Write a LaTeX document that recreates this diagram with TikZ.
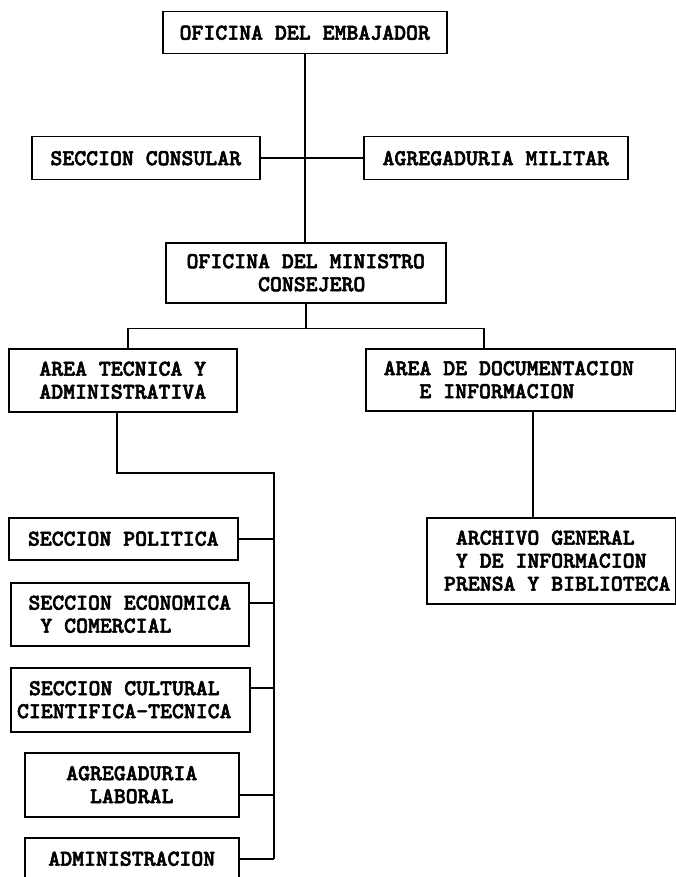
\documentclass[tikz,border=0pt]{standalone}
\usepackage{fontspec}
\newfontfamily\unitfont[FakeBold=2.5]{lmmonolt10-bold.otf}

\begin{document}
\begin{tikzpicture}[
	x=1pt, y=-1pt,
	unit/.style={draw, line width=1.5pt, anchor=north west, align=left, inner xsep=2pt, inner ysep=0pt, font={\unitfont\fontsize{22.7}{23}\selectfont}},
	link/.style={line width=1.5pt}
	]
	
	\clip (0, 0) rectangle (676, 877);
	
	\node (embajador) at (162, 11) [unit, minimum width=284, minimum height=42] {OFICINA DEL EMBAJADOR};
	\node (consular) at (31, 136) [unit, minimum width=228, minimum height=43] {SECCION CONSULAR};
	\node (militar) at (363, 136) [unit, minimum width=264, minimum height=43] {AGREGADURIA MILITAR};
	\node (ministro) at (165, 242) [unit, minimum width=280, minimum height=60] {OFICINA DEL MINISTRO\\\phantom{XXXXXX}CONSEJERO};
	
	\node (tecnica) at (8, 348) [unit, minimum width=228, minimum height=63] {AREA TECNICA Y\\ADMINISTRATIVA};
	\node (documentacion) at (365, 348) [unit, minimum width=310, minimum height=62] {AREA DE DOCUMENTACION\phantom{XX}\\\phantom{XXX}E INFORMACION};
	
	\node (politica) at (8, 517) [unit, minimum width=229, minimum height=42] {SECCION POLITICA};
	\node (economica) at (10, 582) [unit, minimum width=238, minimum height=63] {SECCION ECONOMICA\\\phantom{X}Y COMERCIAL};
	\node (cultural) at (10, 667) [unit, minimum width=239, minimum height=64] {\phantom{X}SECCION CULTURAL\\CIENTIFICA-TECNICA\phantom{X}};
	\node (laboral) at (24, 752) [unit, minimum width=214, minimum height=64] {AGREGADURIA\\\phantom{XX}LABORAL};
	\node (admin) at (24, 837) [unit, minimum width=214, minimum height=42] {ADMINISTRACION};
	
	\node (archivo) at (426, 517) [unit, minimum width=249, minimum height=86] {\phantom{XX}ARCHIVO GENERAL\\\phantom{XX}Y DE INFORMACION\\\phantom{X}PRENSA Y BIBLIOTECA};
	
	% upper part
	\draw [link] (embajador.south) -- (embajador.south |- ministro.north);
	\draw [link] (consular) -- (militar);
	\draw [link] (ministro.south) -- ++(0, 25) coordinate (fork);
	\draw [link] ([xshift=120]tecnica.north west) |- (fork) -| ([xshift=119]documentacion.north west);
	
	% sections
	\draw [link] ([xshift=109]tecnica.south west) |- (274, 473) coordinate (bus) -- (bus |- admin.east);
	\draw [link] (politica.east) -- (politica.east -| bus);
	\draw [link] ([yshift=11.5]economica.east) -- ([yshift=11.5]economica.east -| bus);
	\draw [link] ([yshift=12]cultural.east) -- ([yshift=12]cultural.east -| bus);
	\draw [link] ([yshift=-10]laboral.east) -- ([yshift=-10]laboral.east -| bus);
	\draw [link] (admin.east) -- (admin.east -| bus);
	
	\draw [link] ([xshift=168]documentacion.south west) -- ([xshift=107]archivo.north west);
\end{tikzpicture}
\end{document}
